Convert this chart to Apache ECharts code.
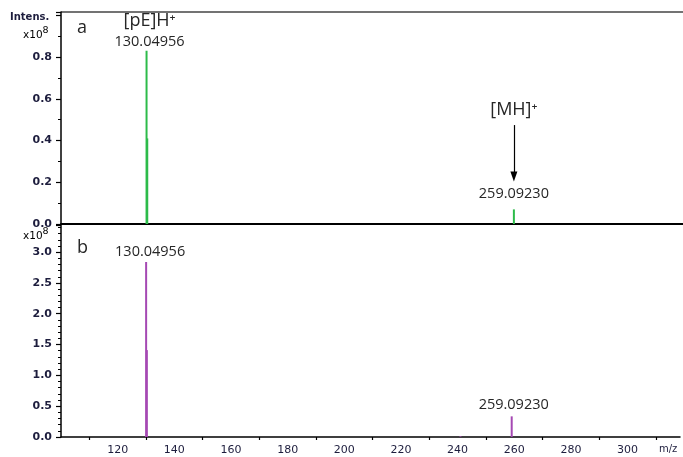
<!DOCTYPE html>
<html><head><meta charset="utf-8">
<script src="https://cdn.jsdelivr.net/npm/echarts@6/dist/echarts.min.js"></script>
<style>html,body{margin:0;padding:0;background:#fff}#c{width:683px;height:457px}</style>
</head><body><div id="c"></div>
<script>
// m/z positions and intensities (x10^8)
const mzA = [130.04956, 130.3, 259.09230];
const intA = [0.83, 0.41, 0.07];
const mzB = [130.04956, 130.3, 241.0, 259.09230];
const intB = [2.84, 1.41, 0.012, 0.335];
const xTicks = [120, 140, 160, 180, 200, 220, 240, 260, 280, 300];
const peakLabels = ['130.04956', '259.09230'];
const ionA = '[pE]H\u207A';
const ionMH = '[MH]\u207A';

const chart = echarts.init(document.getElementById('c'));
const tickLabel = {fontFamily:'DejaVu Sans', fontWeight:'bold', fontSize:11, color:'#1d1d3d'};
const peakFont = {fontFamily:'Open Sans', fontSize:14.5, color:'#262626'};

function yAxis(gi, max, interval, split, fmt) {
  return {
    type:'value', gridIndex:gi, min:0, max:max, interval:interval,
    axisLine:{show:true, lineStyle:{color:'#000', width:1.5}},
    axisTick:{show:true, length:5, lineStyle:{color:'#000', width:1.2}},
    minorTick:{show:true, splitNumber:split, length:3, lineStyle:{color:'#000', width:1}},
    splitLine:{show:false}, minorSplitLine:{show:false},
    axisLabel:Object.assign({margin:9, showMaxLabel:false, formatter:fmt}, tickLabel)
  };
}
function xAxis(gi, showLabels, lw) {
  return {
    type:'value', gridIndex:gi, min:100, max:318.5, interval:20,
    axisLine:{show:true, onZero:false, lineStyle:{color:'#000', width:lw}},
    axisTick:{show:false},
    minorTick:{show:showLabels, splitNumber:2, length:3, lineStyle:{color:'#000', width:1.2}},
    splitLine:{show:false},
    axisLabel:{show:showLabels, margin:8, fontFamily:'DejaVu Sans', fontSize:11, color:'#1d1d3d',
      formatter: v => xTicks.indexOf(v) >= 0 ? String(v) : ''}
  };
}

function mkData(mz, vals, labelMap) {
  return mz.map((m, i) => {
    const d = {value:[m, vals[i]]};
    if (labelMap[i]) d.label = labelMap[i];
    return d;
  });
}

const labA = {
  0: {show:true, position:'top', distance:1, offset:[3,0],
      formatter:'{t|' + ionA + '}\n{v|' + peakLabels[0] + '}',
      rich:{t:{fontFamily:'Open Sans', fontSize:18, color:'#262626', lineHeight:25},
            v:Object.assign({lineHeight:16}, peakFont)}},
  2: Object.assign({show:true, position:'top', distance:8, formatter:peakLabels[1]}, peakFont)
};
const labB = {
  0: Object.assign({show:true, position:'top', distance:3, offset:[4,0], formatter:peakLabels[0]}, peakFont),
  3: Object.assign({show:true, position:'top', distance:4, offset:[2,0], formatter:peakLabels[1]}, peakFont)
};

const expRich = {
  b:{fontFamily:'DejaVu Sans', fontSize:10.5, color:'#1d1d3d', verticalAlign:'bottom'},
  s:{fontFamily:'DejaVu Sans', fontSize:9.5, color:'#1d1d3d', verticalAlign:'top', padding:[0,0,5,0]}
};

chart.setOption({
  animation:false,
  grid:[
    {left:61, right:0, top:12, height:212},
    {left:61, right:0, top:225, height:212}
  ],
  xAxis:[xAxis(0, false, 2), xAxis(1, true, 1.5)],
  yAxis:[
    yAxis(0, 1.0156, 0.2, 2, v => v > 0.95 ? '' : v.toFixed(1)),
    yAxis(1, 3.44, 0.5, 5, v => v > 3.2 ? '' : v.toFixed(1))
  ],
  series:[
    {type:'bar', xAxisIndex:0, yAxisIndex:0, barWidth:2, barGap:'-100%',
     itemStyle:{color:'#2dbb4a'}, data:mkData(mzA, intA, labA),
     markLine:{silent:true, symbol:['none','triangle'], symbolSize:[7,10],
       lineStyle:{color:'#000', width:1.2, type:'solid'},
       label:{show:true, position:'start', distance:6, fontFamily:'Open Sans', fontSize:18, color:'#262626', formatter:ionMH},
       data:[[{coord:[mzA[2], 0.474]}, {coord:[mzA[2], 0.228]}]]}},
    {type:'bar', xAxisIndex:1, yAxisIndex:1, barWidth:2, barGap:'-100%',
     itemStyle:{color:'#a548b3'}, data:mkData(mzB, intB, labB)}
  ],
  graphic:[
    {type:'line', shape:{x1:61, y1:12, x2:683, y2:12}, style:{stroke:'#444', lineWidth:1.5}},
    {type:'text', left:10, top:12, style:{text:'Intens.', font:'bold 10px "DejaVu Sans"', fill:'#1d1d3d'}},
    {type:'text', left:23, top:26, style:{text:'{b|x10}{s|8}', rich:expRich}},
    {type:'text', left:23, top:227, style:{text:'{b|x10}{s|8}', rich:expRich}},
    {type:'text', left:77, top:19, style:{text:'a', font:'18px "Open Sans"', fill:'#262626'}},
    {type:'text', left:77, top:239, style:{text:'b', font:'18px "Open Sans"', fill:'#262626'}},
    {type:'text', left:659, top:444, style:{text:'m/z', font:'10px "DejaVu Sans"', fill:'#1d1d3d'}}
  ]
});
</script></body></html>
